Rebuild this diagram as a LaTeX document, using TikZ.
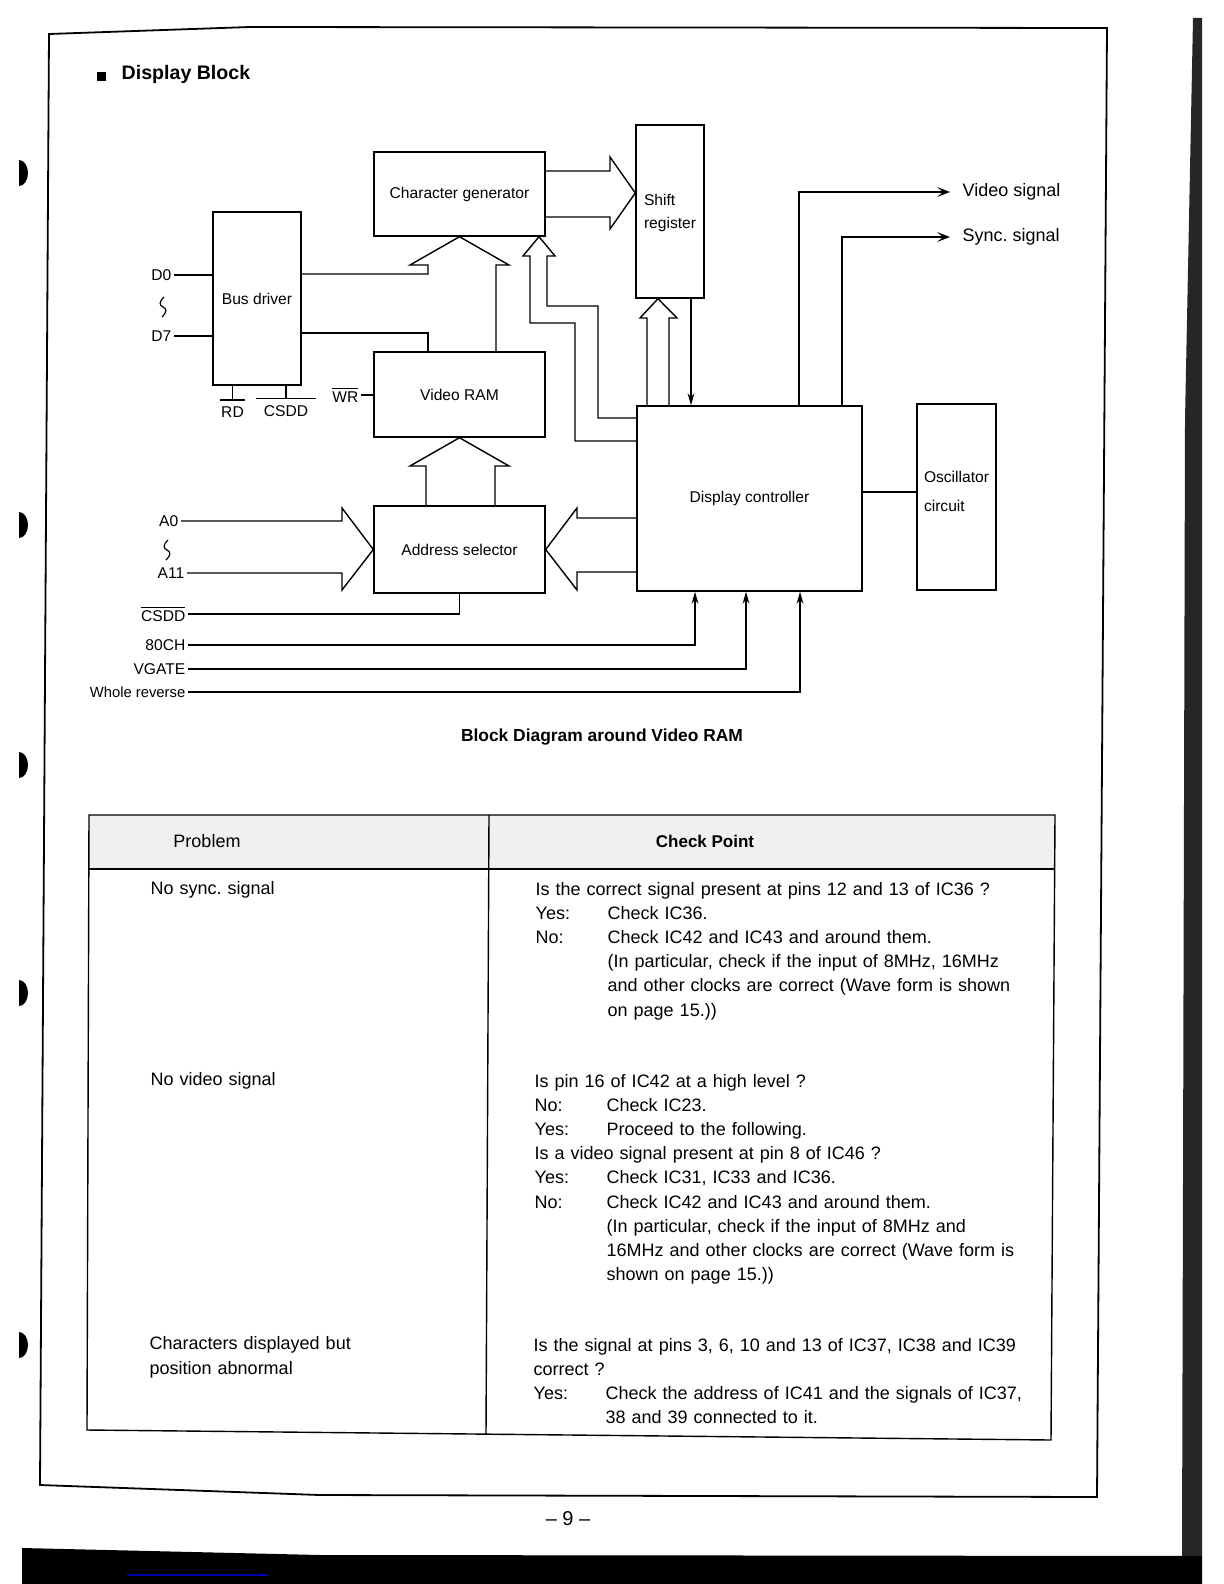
\documentclass[tikz,border=0pt]{standalone}
\usepackage{fontspec}
\setmainfont{Liberation Sans}
\usetikzlibrary{arrows.meta}

\newcommand{\yn}[1]{\makebox[36pt][l]{#1}}
\newcommand{\hang}{\hspace*{36pt}}

\tikzset{
  blk/.style={draw, line width=0.7pt, inner sep=0pt, font=\fontsize{7.8}{9}\selectfont},
  sig/.style={inner sep=1pt, font=\fontsize{7.8}{9}\selectfont},
  wave/.style={line width=0.6pt},
  inarrow/.style={-{Stealth[length=6pt,width=3.4pt]}},
  outarrow/.style={-{Stealth[length=6.5pt,width=5pt,inset=3pt]}},
  cell/.style={anchor=base west, inner sep=0pt, text width=258pt, align=left,
    font=\fontsize{9}{12.1}\selectfont},
}

\begin{document}
\begin{tikzpicture}[x=0.5pt, y=-0.5pt, line width=0.7pt]
\useasboundingbox (0,0) rectangle (1224,1584);

% page frame and scan edges
\draw[line width=0.9pt] (49,34) -- (250,27) -- (1107,28) -- (1097,1497) -- (320,1495) -- (40,1485) -- cycle;
\fill (22,1548) -- (320,1555) -- (1202,1556) -- (1202,1584) -- (22,1584) -- cycle;
\fill[black!85] (1193,18) -- (1202,18) -- (1202,1556) -- (1182,1556) -- (1185,420) -- cycle;
\draw[blue!70!black, line width=1pt] (127,1575) -- (268,1575);
\foreach \y in {174,526,766,994,1346}
  \fill (19,\y+12) arc[start angle=-90, end angle=90, x radius=4.5pt, y radius=6.5pt] -- cycle;

% title
\node[fill, minimum size=4.5pt, inner sep=0pt] (bullet) at (101.5,77) {};
\node[anchor=base west, inner sep=0pt, font=\fontsize{9.8}{12}\selectfont\bfseries] (title) at (121,80) {Display Block};

% blocks
\node[blk, minimum width=85.5pt, minimum height=42pt] (cg) at (459.5,194) {Character generator};
\node[blk, minimum width=34pt, minimum height=86.5pt, align=left, font=\fontsize{7.8}{11.5}\selectfont] (shreg) at (670,211.5) {\mbox{}\\[-4.5pt]Shift\\register};
\node[blk, minimum width=44pt, minimum height=86.5pt] (busdrv) at (257,298.5) {Bus driver};
\node[blk, minimum width=85.5pt, minimum height=42.5pt] (vram) at (459.5,394.5) {Video RAM};
\node[blk, minimum width=85.5pt, minimum height=43.5pt] (addrsel) at (459.5,549.5) {Address selector};
\node[blk, minimum width=112.5pt, minimum height=92.5pt] (dispctl) at (749.5,498.5) {Display controller};
\node[blk, minimum width=39.5pt, minimum height=93pt, align=left, font=\fontsize{7.8}{14.5}\selectfont] (osc) at (956.5,497) {Oscillator\\circuit\\[-9pt]\mbox{}};

% data bus
\node[sig, anchor=east] (d0) at (174,275) {D0};
\node[sig, anchor=east] (d7) at (174,336) {D7};
\draw[wave] (164,297) .. controls (159,302) and (159,305) .. (163,307) .. controls (167,309) and (167,312) .. (162,317);
\draw (d0.east) -- (d0.east -| busdrv.west);
\draw (d7.east) -- (d7.east -| busdrv.west);

\node[sig, inner xsep=0.5pt, inner ysep=3pt] (rd) at (232.5,412) {RD};
\node[sig, inner xsep=3.6pt, inner ysep=3pt] (csddb) at (286,411) {CSDD};
\draw (rd.north west) -- (rd.north east) (rd.north) -- (rd.north |- busdrv.south);
\draw (csddb.north west) -- (csddb.north east) (csddb.north) -- (csddb.north |- busdrv.south);

\draw (busdrv.east |- 0,274) -| (428,265) -- (410,265) -- (cg.south) -- (509,265) -- (496,265) -- (496,0 |- vram.north);
\draw (busdrv.east |- 0,333) -| (428,0 |- vram.north);

\node[sig, anchor=east] (wr) at (361,395) {$\overline{\mbox{WR}}$};
\draw (wr.east) -- (wr.east -| vram.west);

% character generator to shift register
\draw (cg.east |- 0,171) -- (610,171) -- (610,157) -- (shreg.west |- 0,193) -- (610,229) -- (610,217) -- (cg.east |- 0,217);

% display controller buses
\draw (dispctl.west |- 0,441) -| (575,323) -| (530,256) -- (523,256) -- (539,0 |- cg.south) -- (555,256) -- (547,256) |- (598,306) |- (dispctl.west |- 0,418);
\draw (647,0 |- dispctl.north) -- (647,318) -- (640,318) -- (658,0 |- shreg.south) -- (677,318) -- (669,318) -- (669,0 |- dispctl.north);
\draw[inarrow] (691,0 |- shreg.south) -- (691,0 |- dispctl.north);
\draw (dispctl.west |- 0,518) -- (577,518) -- (577,508) -- (addrsel.east) -- (577,590) -- (577,572) -- (dispctl.west |- 0,572);
\draw (426,0 |- addrsel.north) -- (426,466) -- (410,466) -- (vram.south) -- (509,466) -- (495,466) -- (495,0 |- addrsel.north);

% address bus
\node[sig, anchor=east] (a0) at (181,521) {A0};
\node[sig, anchor=east] (a11) at (187,573) {A11};
\draw[wave] (168,540) .. controls (163,545) and (163,548) .. (167,550) .. controls (171,552) and (171,555) .. (166,560);
\draw (a0.east) -- (342,0 |- a0.east) -- (342,508) -- (addrsel.west) -- (342,590) -- (342,0 |- a11.east) -- (a11.east);

\node[sig, anchor=east] (csdd) at (188,614) {$\overline{\mbox{CSDD}}$};
\draw (csdd.east) -| (addrsel.south);

% control inputs
\node[sig, anchor=east] (ch80) at (188,645) {80CH};
\node[sig, anchor=east] (vgate) at (188,669) {VGATE};
\node[sig, anchor=east, font=\fontsize{7.4}{9}\selectfont] (wrev) at (188,692) {Whole reverse};
\draw[inarrow] (ch80.east) -| (695,0 |- dispctl.south);
\draw[inarrow] (vgate.east) -| (746,0 |- dispctl.south);
\draw[inarrow] (wrev.east) -| (800,0 |- dispctl.south);

% outputs
\node[anchor=west, inner xsep=6pt, font=\fontsize{9}{11}\selectfont] (vidsig) at (950,192) {Video signal};
\node[anchor=west, inner xsep=6pt, font=\fontsize{9}{11}\selectfont] (syncsig) at (950,237) {Sync.\ signal};
\draw[outarrow] (799,0 |- dispctl.north) |- (vidsig.west);
\draw[outarrow] (842,0 |- dispctl.north) |- (syncsig.west);
\draw (dispctl.east |- 0,492) -- (osc.west |- 0,492);

\node[font=\fontsize{8.7}{10}\selectfont\bfseries] (caption) at (602,737) {Block Diagram around Video RAM};

% trouble table
\fill[black!6] (89,815) rectangle (1055,869);
\draw (89,815) -- (1055,815) -- (1051,1440) -- (87,1430) -- cycle;
\draw (89,869) -- (1055,869);
\draw (489,815) -- (486,1435);
\node[font=\fontsize{9}{11}\selectfont] (hprob) at (207,841) {Problem};
\node[font=\fontsize{8.5}{11}\selectfont\bfseries] (hcheck) at (705,841) {Check Point};

\node[cell] (p1) at (150,894) {No sync.\ signal};
\node[cell] (c1) at (535,895) {Is the correct signal present at pins 12 and 13 of IC36 ?\\
  \yn{Yes:}Check IC36.\\
  \yn{No:}Check IC42 and IC43 and around them.\\
  \hang(In particular, check if the input of 8MHz, 16MHz\\
  \hang and other clocks are correct (Wave form is shown\\
  \hang on page 15.))};

\node[cell] (p2) at (150,1085) {No video signal};
\node[cell] (c2) at (534,1087) {Is pin 16 of IC42 at a high level ?\\
  \yn{No:}Check IC23.\\
  \yn{Yes:}Proceed to the following.\\
  Is a video signal present at pin 8 of IC46 ?\\
  \yn{Yes:}Check IC31, IC33 and IC36.\\
  \yn{No:}Check IC42 and IC43 and around them.\\
  \hang(In particular, check if the input of 8MHz and\\
  \hang 16MHz and other clocks are correct (Wave form is\\
  \hang shown on page 15.))};

\node[cell, font=\fontsize{9}{12.5}\selectfont] (p3) at (149,1349) {Characters displayed but\\ position abnormal};
\node[cell] (c3) at (533,1351) {Is the signal at pins 3, 6, 10 and 13 of IC37, IC38 and IC39\\
  correct ?\\
  \yn{Yes:}Check the address of IC41 and the signals of IC37,\\
  \hang 38 and 39 connected to it.};

\node[font=\fontsize{10}{12}\selectfont] (pageno) at (568,1519) {-- 9 --};
\end{tikzpicture}
\end{document}
